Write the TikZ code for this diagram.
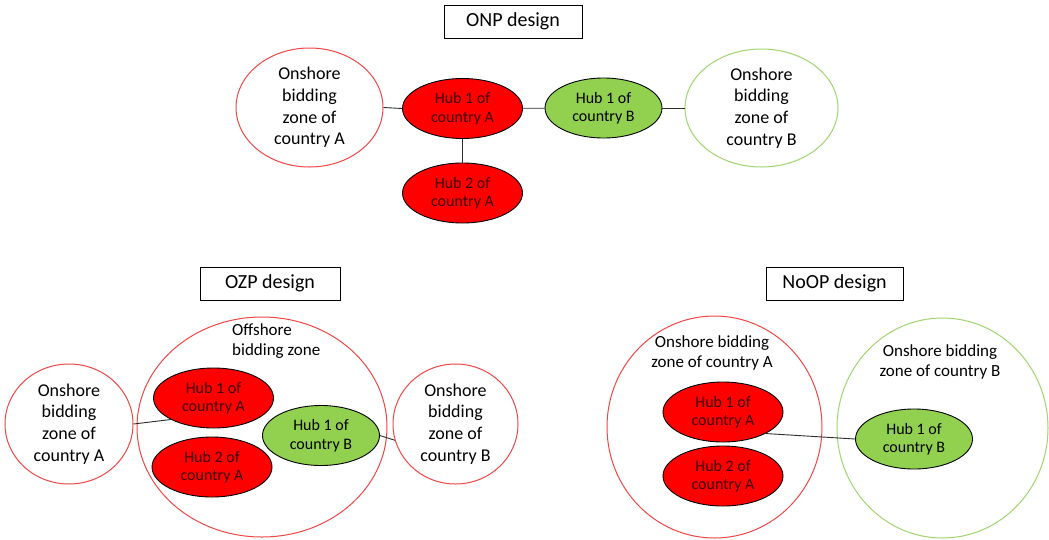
\documentclass[tikz,border=0pt]{standalone}
\usepackage{fontspec}
\setmainfont{Carlito}
\usepackage{xcolor}
\usepackage{tikz}
\usetikzlibrary{shapes.geometric}
\definecolor{hubred}{RGB}{255, 0, 0}
\definecolor{hubgreen}{RGB}{146, 208, 80}
\definecolor{edgered}{RGB}{240, 70, 70}
\definecolor{edgegreen}{RGB}{160, 212, 110}
\definecolor{wiregray}{RGB}{45, 45, 45}
\tikzset{
    ttl/.style   ={draw=black, line width=0.9pt, fill=white, inner sep=0pt,
                   font=\fontsize{20}{24}\selectfont},
    zone/.style  ={ellipse, line width=1pt, fill=white, inner sep=0pt,
                   align=center, font=\fontsize{18}{21.7}\selectfont},
    zoneA/.style ={zone, draw=edgered},
    zoneB/.style ={zone, draw=edgegreen},
    hub/.style   ={ellipse, draw=black, line width=0.9pt, inner sep=0pt,
                   minimum width=120pt, minimum height=60pt,
                   align=center, font=\fontsize{16}{18.5}\selectfont},
    hubA/.style  ={hub, fill=hubred, text={rgb,255:red,60;green,0;blue,0}},
    hubB/.style  ={hub, fill=hubgreen, minimum width=117pt},
    wire/.style  ={draw=wiregray, line width=0.9pt},
    lbl/.style   ={inner sep=0pt, font=\fontsize{17}{20}\selectfont}
}

\begin{document}
\begin{tikzpicture}[x=1pt, y=-1pt]
  \useasboundingbox (0,0) rectangle (1049,539);

  % ONP design
  \node[ttl, minimum width=138pt, minimum height=33pt] (onpT) at (513,21.5) {ONP design};
  \node[zoneA, minimum width=147pt, minimum height=119pt] (onpZA) at (309.5,107.5)
       {Onshore\\bidding\\zone of\\country A};
  \node[hubA] (onpH1A) at (462.5,108.5) {Hub 1 of\\country A};
  \node[hubA] (onpH2A) at (462.5,193) {Hub 2 of\\country A};
  \node[hubB] (onpH1B) at (603.5,108) {Hub 1 of\\country B};
  \node[zoneB, minimum width=153pt, minimum height=118pt] (onpZB) at (761.5,108)
       {Onshore\\bidding\\zone of\\country B};

  \draw[wire] (onpZA.east) -- (onpH1A.west);
  \draw[wire] (onpH1A) -- (onpH1B);
  \draw[wire] (onpH1B.east) -- (onpZB.west);
  \draw[wire] (onpH1A) -- (onpH2A);

  % OZP design
  \node[ttl, minimum width=140pt, minimum height=33pt] (ozpT) at (270,283.5) {OZP design};
  \node[zoneA, minimum width=250pt, minimum height=220pt] (ozpOff) at (262,427) {};
  \node[lbl, align=left, anchor=west] (ozpOffL) at (232,341) {Offshore\\bidding zone};
  \node[zoneA, minimum width=128pt, minimum height=120pt] (ozpZA) at (69,424)
       {Onshore\\bidding\\zone of\\country A};
  \node[zoneA, minimum width=125pt, minimum height=120pt] (ozpZB) at (455.5,424)
       {Onshore\\bidding\\zone of\\country B};
  \node[hubA] (ozpH1A) at (213.5,398) {Hub 1 of\\country A};
  \node[hubA] (ozpH2A) at (212,467) {Hub 2 of\\country A};
  \node[hubB] (ozpH1B) at (321,435.5) {Hub 1 of\\country B};

  \draw[wire] (ozpZA.east) -- (ozpH1A.south west);
  \draw[wire] (ozpH1B.east) -- (ozpZB.195);

  % NoOP design
  \node[ttl, minimum width=137pt, minimum height=33pt] (noopT) at (834.5,283.5) {NoOP design};
  \node[zoneA, minimum width=215pt, minimum height=222pt] (noopZA) at (714.5,427) {};
  \node[zoneB, minimum width=211pt, minimum height=220pt] (noopZB) at (942.5,428) {};
  \node[lbl, align=center] (noopZAL) at (712,353) {Onshore bidding\\zone of country A};
  \node[lbl, align=center] (noopZBL) at (940,362) {Onshore bidding\\zone of country B};
  \node[hubA] (noopH1A) at (723,412) {Hub 1 of\\country A};
  \node[hubA] (noopH2A) at (723,476) {Hub 2 of\\country A};
  \node[hubB] (noopH1B) at (914,439) {Hub 1 of\\country B};

  \draw[wire] (noopH1A.south east) -- (noopH1B.west);
\end{tikzpicture}
\end{document}
